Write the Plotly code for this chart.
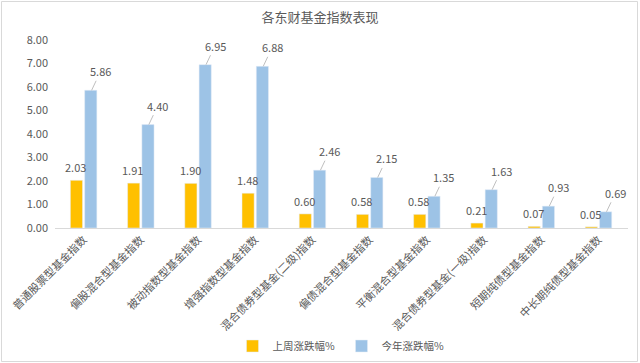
import plotly.graph_objects as go

categories = ["普通股票型基金指数", "偏股混合型基金指数", "被动指数型基金指数", "增强指数型基金指数",
              "混合债券型基金(二级)指数", "偏债混合型基金指数", "平衡混合型基金指数",
              "混合债券型基金(一级)指数", "短期纯债型基金指数", "中长期纯债型基金指数"]
last_week = [2.03, 1.91, 1.90, 1.48, 0.60, 0.58, 0.58, 0.21, 0.07, 0.05]
this_year = [5.86, 4.40, 6.95, 6.88, 2.46, 2.15, 1.35, 1.63, 0.93, 0.69]
y_ticks = [0, 1, 2, 3, 4, 5, 6, 7, 8]

FONT = "Noto Sans CJK SC"
GRAY = "#595959"
W, H = 640, 363
ML, MR, MT, MB = 55, 12, 40, 135
PW, PH = W - ML - MR, H - MT - MB

fig = go.Figure()
fig.add_trace(go.Bar(name="上周涨跌幅%", x=categories, y=last_week, marker_color="#FFC000"))
fig.add_trace(go.Bar(name="今年涨跌幅%", x=categories, y=this_year, marker_color="#9DC3E6"))

annotations = []
for c, v in zip(categories, last_week):
    annotations.append(dict(x=c, y=v, xref="x", yref="y", text=f"{v:.2f}", showarrow=False,
                            xshift=-8, yshift=13, font=dict(size=11, color=GRAY, family=FONT)))
for c, v in zip(categories, this_year):
    annotations.append(dict(x=c, y=v, xref="x", yref="y", text=f"{v:.2f}", showarrow=True,
                            arrowhead=0, arrowwidth=1, arrowcolor="#BFBFBF", ax=9, ay=-19,
                            xshift=8, standoff=0,
                            font=dict(size=11, color=GRAY, family=FONT)))

fig.update_layout(
    width=W, height=H,
    paper_bgcolor="white", plot_bgcolor="white",
    font=dict(family=FONT, color=GRAY, size=11),
    title=dict(text="各东财基金指数表现", x=0.5, xanchor="center", y=1 - 17 / H, yanchor="middle",
               font=dict(size=13, color=GRAY, family=FONT)),
    barmode="group", bargap=0.5, bargroupgap=0.15,
    margin=dict(l=ML, r=MR, t=MT, b=MB),
    xaxis=dict(tickangle=-45, showline=True, linecolor="#D9D9D9", ticks="", automargin=False,
               tickfont=dict(size=11, color=GRAY)),
    yaxis=dict(range=[0, 8], tickvals=y_ticks, tickformat=".2f", showgrid=False, automargin=False,
               zeroline=False, showline=False, ticklabelstandoff=6,
               tickfont=dict(size=11, color=GRAY)),
    legend=dict(orientation="h", x=0.5, xanchor="center", y=17 / H, yref="container",
                yanchor="middle", itemwidth=30, entrywidth=64, entrywidthmode="pixels",
                font=dict(size=10.5, color=GRAY)),
    annotations=annotations,
    shapes=[dict(type="rect", xref="paper", yref="paper",
                 x0=-(ML - 1.5) / PW, x1=1 + (MR - 2.5) / PW,
                 y0=-(MB - 1.5) / PH, y1=1 + (MT - 1.5) / PH,
                 line=dict(color="#D9D9D9", width=1), layer="below")],
    showlegend=True,
)
fig.write_html("out.html", config={"displayModeBar": False},
               post_script="document.body.style.margin='0';")
